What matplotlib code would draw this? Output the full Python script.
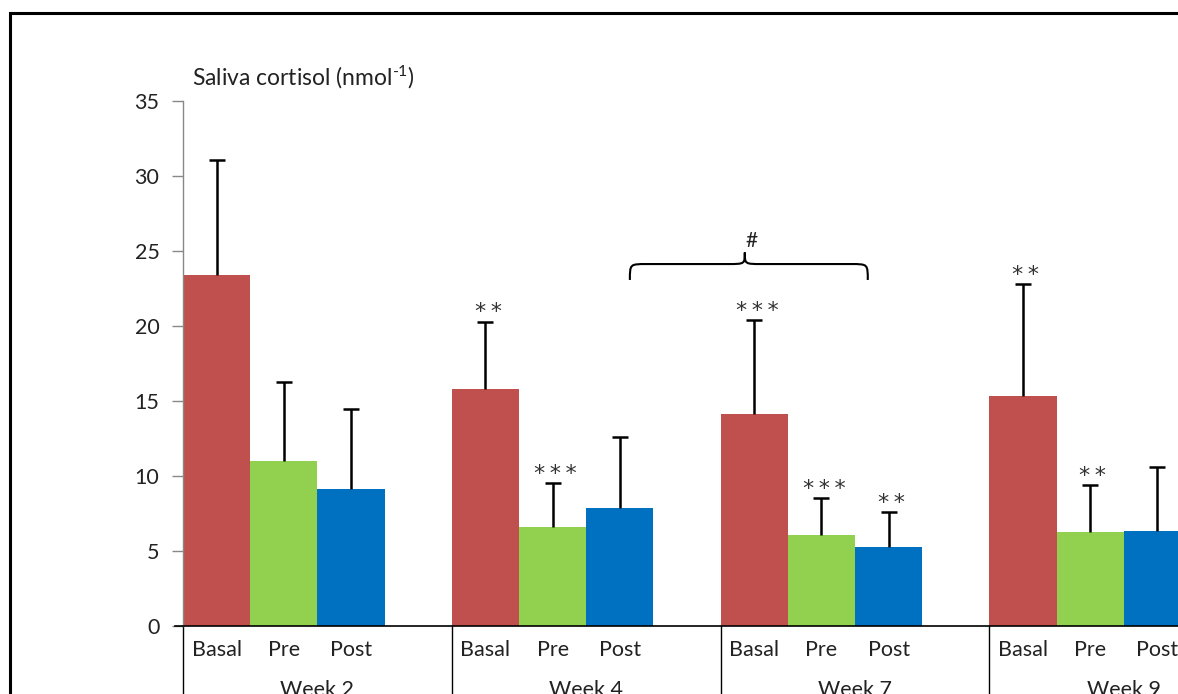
import matplotlib
matplotlib.use("Agg")
import matplotlib.pyplot as plt
import numpy as np
from matplotlib.path import Path
from matplotlib.patches import PathPatch, Rectangle

plt.rcParams['font.family'] = ['Lato', 'DejaVu Sans']
plt.rcParams['mathtext.fontset'] = 'custom'
plt.rcParams['mathtext.rm'] = 'Lato'
plt.rcParams['mathtext.it'] = 'Lato:italic'

weeks = ["Week 2", "Week 4", "Week 7", "Week 9"]
phases = ["Basal", "Pre", "Post"]
means = {
    "Basal": [23.4, 15.8, 14.13, 15.33],
    "Pre":   [11.0, 6.6, 6.07, 6.27],
    "Post":  [9.13, 7.87, 5.27, 6.33],
}
err_top = {
    "Basal": [31.1, 20.27, 20.4, 22.8],
    "Pre":   [16.27, 9.53, 8.53, 9.4],
    "Post":  [14.47, 12.6, 7.6, 10.6],
}
stars = {
    "Basal": ["", "**", "***", "**"],
    "Pre":   ["", "***", "***", "**"],
    "Post":  ["", "", "**", ""],
}
colors = {"Basal": "#C0504D", "Pre": "#92D050", "Post": "#0070C0"}

W, H = 1178, 694
fig = plt.figure(figsize=(W/100, H/100), dpi=100)
ax = fig.add_axes([183/W, 68/H, (W-183)/W, 525/H])

slots = 4  # 3 bars + gap per week
for i, ph in enumerate(phases):
    x = np.arange(len(weeks)) * slots + i + 0.5
    m = np.array(means[ph])
    e = np.array(err_top[ph]) - m
    ax.bar(x, m, width=1.0, color=colors[ph], edgecolor='none', zorder=2)
    eb = ax.errorbar(x, m, yerr=[np.zeros_like(e), e], fmt='none', ecolor='black',
                     elinewidth=1.8, capsize=6, capthick=1.8, zorder=3)
    eb[1][0].set_visible(False)  # no lower cap
    for xi, top, s in zip(x, err_top[ph], stars[ph]):
        if s:
            ax.annotate("\u2009".join(s), (xi, top), xytext=(2, 2.5),
                        textcoords='offset points', ha='center', va='baseline',
                        fontsize=16, color='#333333', family='DejaVu Sans')

ax.set_xlim(0, (W-183)/67.2)
ax.set_ylim(0, 35)
ax.set_yticks(np.arange(0, 36, 5))
ax.tick_params(axis='y', direction='out', length=8, width=1, color='#888888',
               labelsize=15.5, pad=9, labelcolor='#222222')
ax.set_xticks([])
for s in ['top', 'right', 'bottom']:
    ax.spines[s].set_visible(False)
ax.spines['left'].set_color('#888888')
ax.spines['left'].set_linewidth(1)

# category axis: horizontal line + separators + labels
trans = ax.get_xaxis_transform()
ax.plot([-8/67.2, ax.get_xlim()[1]], [0, 0], transform=trans, color='black',
        lw=1.2, clip_on=False, zorder=4)
for g, wk in enumerate(weeks):
    xs = g * slots
    ax.plot([xs, xs], [0, -0.2], transform=trans, color='black', lw=1,
            clip_on=False)
    for i, ph in enumerate(phases):
        ax.text(xs + i + 0.5, -24/525, ph, transform=trans, ha='center',
                va='center', fontsize=15.5, color='#222222', clip_on=False)
    ax.text(xs + slots/2, -64/525, wk, transform=trans, ha='center',
            va='center', fontsize=15.5, color='#222222', clip_on=False)

# y-axis title
ax.text(192/W, (694-77)/H, r"Saliva cortisol (nmol$^{\text{-1}}$)",
        transform=fig.transFigure, ha='left', va='center', fontsize=16.5,
        color='#222222')

# brace with #
x0, x1, xt = 6.65, 10.19, 8.36
yb, yl, ytip = 23.07, 24.13, 24.9
dx = 0.25
verts = [
    (x0, yb), (x0, yl), (x0, yl), (x0 + dx, yl),
    (xt - dx, yl),
    (xt, yl), (xt, yl), (xt, ytip),
    (xt, yl), (xt, yl), (xt + dx, yl),
    (x1 - dx, yl),
    (x1, yl), (x1, yl), (x1, yb),
]
codes = [Path.MOVETO, Path.CURVE4, Path.CURVE4, Path.CURVE4,
         Path.LINETO,
         Path.CURVE4, Path.CURVE4, Path.CURVE4,
         Path.CURVE4, Path.CURVE4, Path.CURVE4,
         Path.LINETO,
         Path.CURVE4, Path.CURVE4, Path.CURVE4]
ax.add_patch(PathPatch(Path(verts, codes), facecolor='none', edgecolor='black',
                       lw=1.5, zorder=5))
ax.text(xt + 0.1, ytip + 0.1, "#", ha='center', va='bottom', fontsize=15,
        color='#222222')

# outer frame (cropped)
fig.patches.append(Rectangle((10/W, -0.2), 1.2, (694-13)/H + 0.2,
                             transform=fig.transFigure, fill=False,
                             edgecolor='black', lw=2.2))

fig.savefig("out.png", dpi=100)
